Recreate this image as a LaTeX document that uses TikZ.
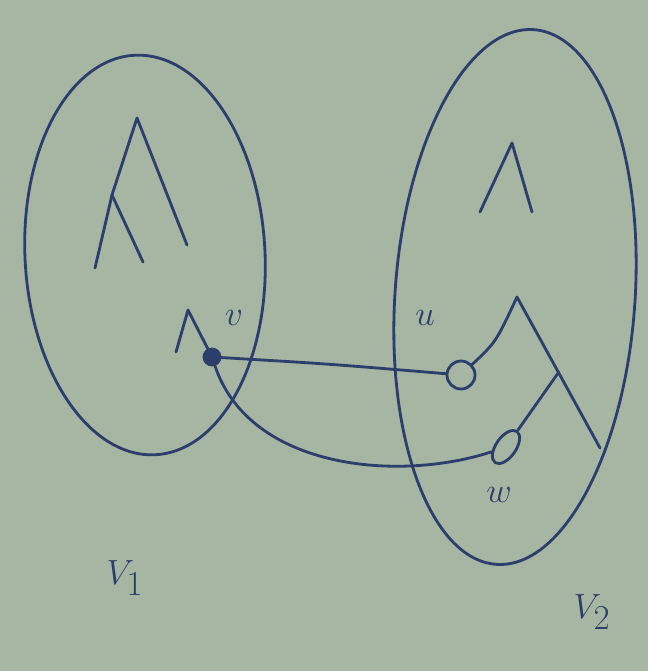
\documentclass[tikz,border=0pt]{standalone}
\usetikzlibrary{shapes.geometric,calc}
\definecolor{paper}{RGB}{166,182,163}
\definecolor{ink}{RGB}{44,62,108}
\begin{document}
\begin{tikzpicture}[
  x=0.25mm, y=-0.25mm,
  line/.style={draw=ink, line width=2pt, line cap=round, line join=round},
  part/.style={line, ellipse, minimum width=60mm},
  vertex/.style={line, circle, inner sep=0pt, minimum size=7mm},
  tag/.style={text=ink, font=\fontsize{44}{44}\selectfont},
  setname/.style={text=ink, font=\fontsize{66}{66}\selectfont}
]
\useasboundingbox (0,0) rectangle (648,671);
\fill[paper] (0,0) rectangle (648,671);

\node[part, minimum height=100mm, rotate=3] (vone) at (145,255) {};
\node[part, minimum height=134mm, rotate=-4] (vtwo) at (515,297) {};

\node[line, circle, fill=ink, inner sep=0pt, minimum size=4mm] (v) at (212,357) {};
\node[vertex] (u) at (461,375) {};
\node[line, ellipse, inner sep=0pt, minimum width=5mm, minimum height=9.5mm, rotate=-35] (w) at (506,447) {};

\coordinate (la) at (137,118);
\coordinate (lb) at (112,195);
\coordinate (lc) at (187,245);
\coordinate (ld) at (95,268);
\coordinate (le) at (143,262);
\coordinate (ra) at (512,143);
\coordinate (rb) at (480,212);
\coordinate (rc) at (532,212);
\coordinate (sa) at (188,310);
\coordinate (sb) at (176,352);
\coordinate (ta) at (517,297);
\coordinate (tb) at (600,448);
\coordinate (tm) at ($(ta)!0.5!(tb)$);

\draw[line] (ld) -- (lb) -- (la) -- (lc);
\draw[line] (lb) -- (le);
\draw[line] (rb) -- (ra) -- (rc);
\draw[line] (sb) -- (sa) -- (v);
\draw[line] (ta) -- (tb);

\draw[line] (v) .. controls (330,364) .. (u);
\draw[line] (v) .. controls (250,470) and (400,482) .. (w);
\draw[line] (u) .. controls (496,342) .. (ta);
\draw[line] (tm) -- (w);

\node[tag] (vname) at (234,318) {$v$};
\node[tag] (uname) at (425,318) {$u$};
\node[tag] (wname) at (499,495) {$w$};
\node[setname] (vonename) at (125,578) {$V_1$};
\node[setname] (vtwoname) at (592,612) {$V_2$};
\end{tikzpicture}
\end{document}
